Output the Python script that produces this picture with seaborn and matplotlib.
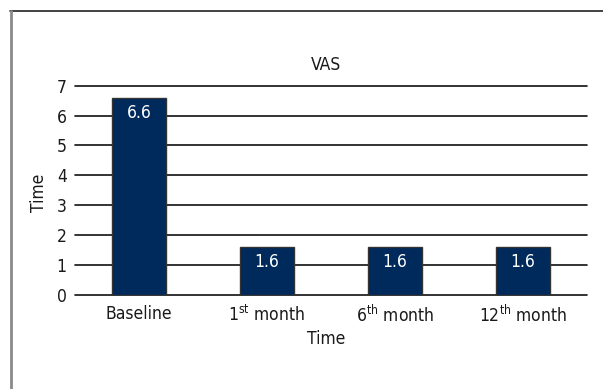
import matplotlib
matplotlib.use("Agg")
import matplotlib.pyplot as plt
from matplotlib.lines import Line2D
import seaborn as sns
import pandas as pd

categories = ["Baseline", "1st month", "6th month", "12th month"]
tick_labels = ["Baseline", "1$^{\\mathregular{st}}$ month",
               "6$^{\\mathregular{th}}$ month", "12$^{\\mathregular{th}}$ month"]
vas_values = [6.6, 1.6, 1.6, 1.6]
value_labels = ["6.6", "1.6", "1.6", "1.6"]
y_ticks = [0, 1, 2, 3, 4, 5, 6, 7]

sns.set_theme(style="white")
plt.rcParams["font.family"] = ["DejaVu Sans"]
plt.rcParams["font.stretch"] = "condensed"

W, H = 603, 389
fig = plt.figure(figsize=(W / 100, H / 100), dpi=100)
fig.patch.set_facecolor("white")

# outer frame (top and left edges only)
fig.add_artist(Line2D([10 / W, 1.0], [1 - 10.5 / H, 1 - 10.5 / H],
                      transform=fig.transFigure, color="#222222", lw=1.2))
fig.add_artist(Line2D([11 / W, 11 / W], [0.0, 1 - 10.5 / H],
                      transform=fig.transFigure, color="#8a8a8a", lw=2.0))

x0, x1 = 75, 587
y_top, y_bot = 85.7, 295
ax = fig.add_axes([x0 / W, 1 - y_bot / H, (x1 - x0) / W, (y_bot - y_top) / H])

df = pd.DataFrame({"period": categories, "vas": vas_values})
sns.barplot(data=df, x="period", y="vas", color="#002a5c", saturation=1,
            edgecolor="#333333", linewidth=1.0, width=0.415, ax=ax, zorder=3)

ax.set_ylim(0, 7)
ax.set_xlim(-0.5, 3.5)
ax.set_yticks(y_ticks)
ax.set_yticklabels([str(t) for t in y_ticks])
ax.set_xticks(range(len(categories)))
ax.set_xticklabels(tick_labels)
for t in y_ticks:
    ax.axhline(t, color="#111111", lw=1.2, zorder=1, clip_on=False)
for s in ax.spines.values():
    s.set_visible(False)
ax.tick_params(axis="both", length=0, labelsize=12.5, colors="#1a1a1a")
ax.tick_params(axis="y", pad=6)
ax.tick_params(axis="x", pad=7)

for i, (v, lab) in enumerate(zip(vas_values, value_labels)):
    ax.annotate(lab, xy=(i, v), xytext=(0, -15), textcoords="offset pixels",
                ha="center", va="center", color="white", fontsize=12.5, zorder=4)

ax.set_title("VAS", fontsize=12.5, pad=11, color="#1a1a1a", x=0.49)
ax.set_xlabel("Time", fontsize=12.5, color="#1a1a1a")
ax.set_ylabel("Time", fontsize=12.5, color="#1a1a1a")
ax.xaxis.label.set_va("center")
ax.xaxis.set_label_coords(0.49, -0.21)
ax.yaxis.set_label_coords(-0.052, 0.49)

fig.savefig("out.png", dpi=100, facecolor="white")
